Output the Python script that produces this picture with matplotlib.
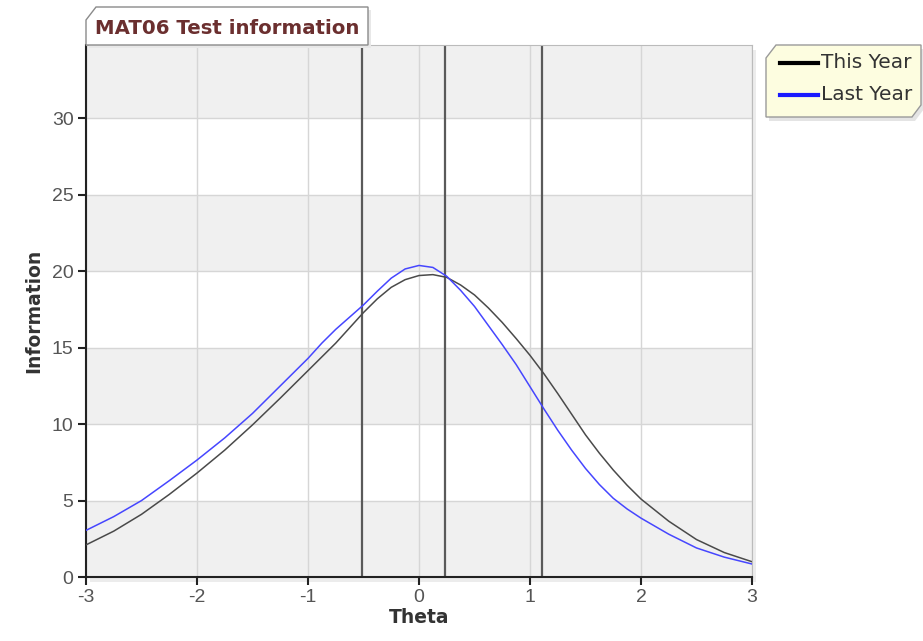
import matplotlib
matplotlib.use("Agg")
import matplotlib.pyplot as plt
from matplotlib.patches import Polygon, Rectangle
from matplotlib.lines import Line2D

plt.rcParams["axes.unicode_minus"] = False
plt.rcParams["font.family"] = ["Liberation Sans", "DejaVu Sans"]

theta = [-3, -2.75, -2.5, -2.25, -2, -1.75, -1.5, -1.25, -1, -0.875, -0.75, -0.625,
         -0.5, -0.375, -0.25, -0.125, 0, 0.125, 0.25, 0.375, 0.5, 0.625, 0.75, 0.875,
         1, 1.125, 1.25, 1.375, 1.5, 1.625, 1.75, 1.875, 2, 2.25, 2.5, 2.75, 3]
this_year = [2.1, 3.0, 4.1, 5.4, 6.8, 8.3, 9.95, 11.7, 13.5, 14.4, 15.3, 16.3,
             17.3, 18.2, 18.95, 19.45, 19.72, 19.78, 19.6, 19.1, 18.45, 17.6, 16.65, 15.6,
             14.5, 13.3, 12.0, 10.65, 9.3, 8.1, 7.0, 6.0, 5.1, 3.65, 2.45, 1.6, 1.0]
last_year = [3.05, 3.95, 5.0, 6.3, 7.65, 9.1, 10.7, 12.5, 14.3, 15.3, 16.2, 17.0,
             17.8, 18.7, 19.55, 20.15, 20.38, 20.25, 19.67, 18.75, 17.7, 16.45, 15.2, 13.9,
             12.45, 11.0, 9.6, 8.3, 7.1, 6.05, 5.15, 4.45, 3.85, 2.8, 1.9, 1.3, 0.85]
cut_points = [-0.51, 0.23, 1.11]
x_ticks = [-3, -2, -1, 0, 1, 2, 3]
y_ticks = [0, 5, 10, 15, 20, 25, 30]
title = "MAT06 Test information"
legend_labels = ["This Year", "Last Year"]

W, H = 923, 641
fig = plt.figure(figsize=(W / 100, H / 100), dpi=100)
fig.patch.set_facecolor("white")

def px(x, y):
    return (x / W, 1 - y / H)

L, R, T, B = 86, 752, 45, 577
# subtle shadow
fig.patches.append(Rectangle(px(L + 4, B + 5), (R - L) / W, (B - T) / H,
                             transform=fig.transFigure, facecolor="#ececec",
                             edgecolor="none", zorder=0))
ax = fig.add_axes([L / W, 1 - B / H, (R - L) / W, (B - T) / H])
ax.set_zorder(1)
ax.set_xlim(-3, 3)
ax.set_ylim(0, 34.8)
ax.set_facecolor("white")

# alternating bands
for i, y0 in enumerate(range(0, 35, 5)):
    if i % 2 == 0:
        ax.axhspan(y0, y0 + 5, color="#f0f0f0", zorder=0, lw=0)

ax.set_xticks(x_ticks)
ax.set_yticks(y_ticks)
ax.grid(True, color="#d6d6d6", lw=1.0, zorder=0.5)
ax.set_axisbelow(True)

for c in cut_points:
    ax.axvline(c, color="#5a5a5a", lw=1.6, zorder=2)

ax.plot(theta, this_year, color="#4a4a4a", lw=1.1, zorder=3, solid_joinstyle="round")
ax.plot(theta, last_year, color="#4646ff", lw=1.1, zorder=3, solid_joinstyle="round")

for s in ["top", "right"]:
    ax.spines[s].set_color("#bbbbbb")
    ax.spines[s].set_linewidth(0.8)
for s in ["left", "bottom"]:
    ax.spines[s].set_color("#222222")
    ax.spines[s].set_linewidth(1.5)

ax.tick_params(axis="both", direction="out", length=6, width=1.5, color="#222222",
               labelsize=14, labelcolor="#555555", pad=3)

ax.set_xlabel("Theta", fontsize=13.5, fontweight="bold", fontfamily="DejaVu Sans",
              color="#333333", labelpad=1)
ax.set_ylabel("Information", fontsize=13.5, fontweight="bold", fontfamily="DejaVu Sans",
              color="#333333", labelpad=6)

# title tab
tab = [(86, 45), (86, 20), (96, 7), (368, 7), (368, 45)]
fig.patches.append(Polygon([px(*p) for p in [(x + 3, y + 3) for x, y in tab]], closed=True,
                           transform=fig.transFigure, facecolor="#e8e8e8",
                           edgecolor="none", zorder=2))
fig.patches.append(Polygon([px(*p) for p in tab], closed=True, transform=fig.transFigure,
                           facecolor="white", edgecolor="#8a8a8a", lw=1.0, zorder=3))
fig.text(*px(95, 28), title, fontsize=14.2, fontweight="bold", color="#6b2f2f",
         ha="left", va="center", fontfamily="DejaVu Sans", zorder=4)

# legend box
leg = [(766, 58), (776, 45), (921, 45), (921, 105), (912, 117), (766, 117)]
fig.patches.append(Polygon([px(*p) for p in [(x + 3, y + 4) for x, y in leg]], closed=True,
                           transform=fig.transFigure, facecolor="#e4e4e4",
                           edgecolor="none", zorder=2))
fig.patches.append(Polygon([px(*p) for p in leg], closed=True, transform=fig.transFigure,
                           facecolor="#fdfde0", edgecolor="#9a9a9a", lw=1.0, zorder=3))
for i, (lab, col) in enumerate(zip(legend_labels, ["#000000", "#1a1aff"])):
    yy = 63 + i * 32
    x0, y0 = px(780, yy)
    x1, _ = px(818, yy)
    fig.lines.append(Line2D([x0, x1], [y0, y0], transform=fig.transFigure,
                            color=col, lw=3, zorder=4))
    fig.text(*px(821, yy), lab, fontsize=14.5, color="#333333", ha="left", va="center",
             fontfamily="DejaVu Sans", zorder=4)

fig.savefig("out.png", dpi=100)
